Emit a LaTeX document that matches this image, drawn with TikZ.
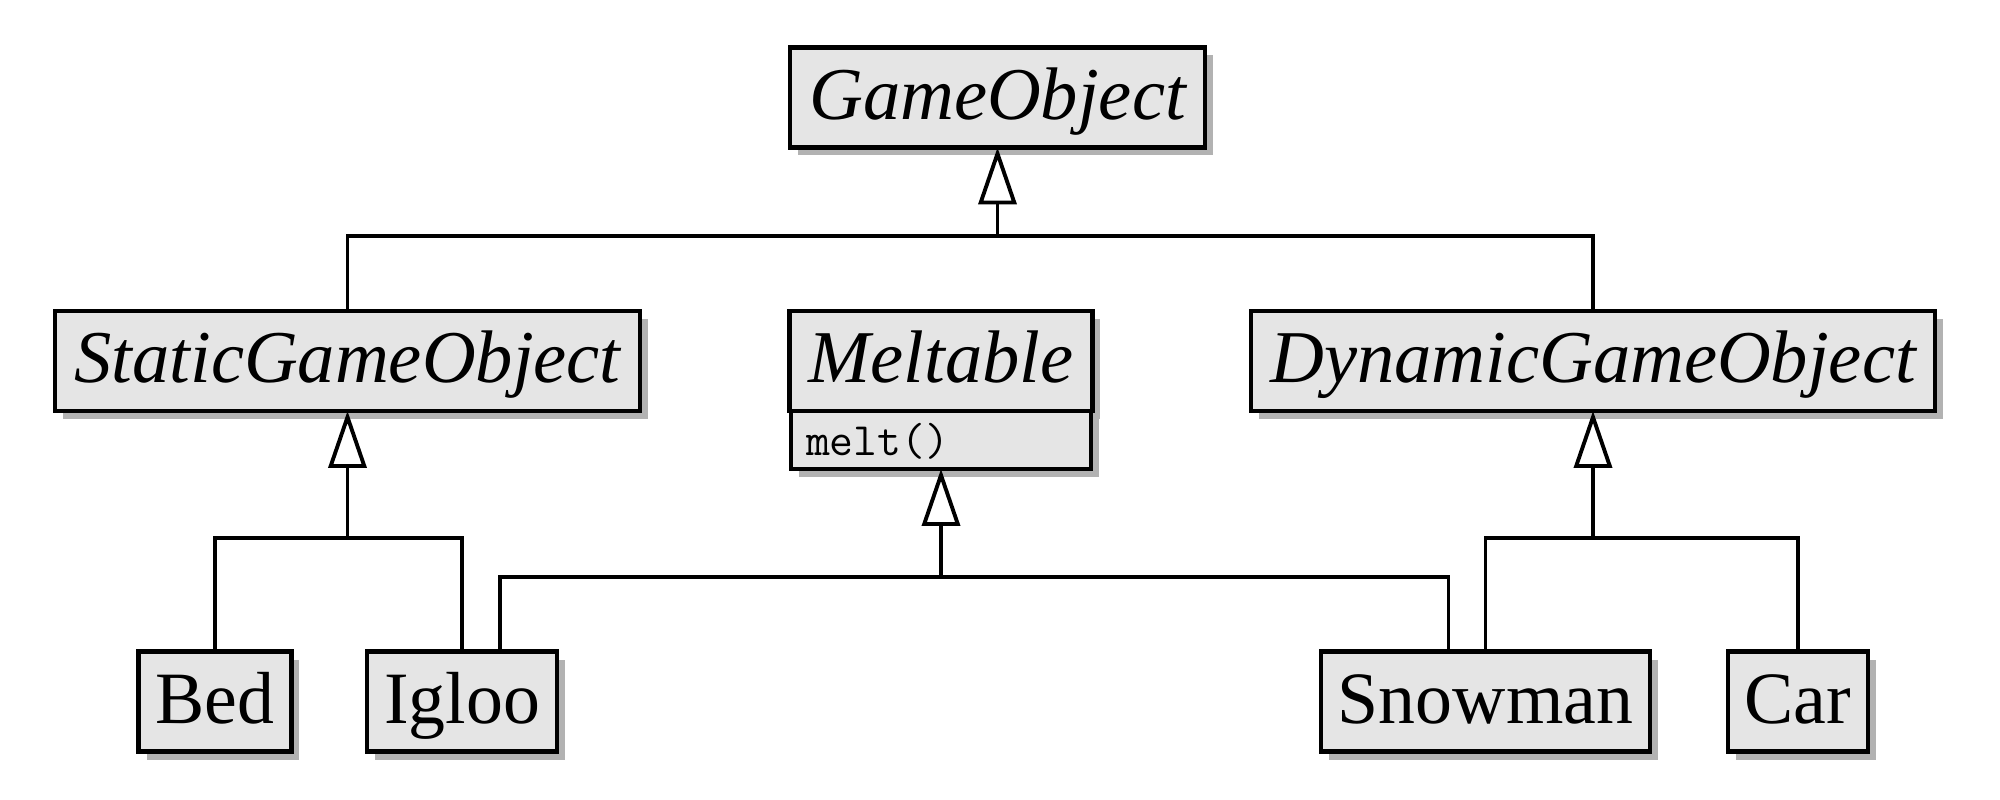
\documentclass[tikz,border=0pt]{standalone}
\usepackage{fontspec}
\setmainfont{Liberation Serif}
\usetikzlibrary{arrows.meta,shadows}

\begin{document}
\begin{tikzpicture}[
  class/.style={draw,fill=black!10,line width=1.2pt,outer sep=0pt,
    drop shadow={shadow xshift=0.08cm,shadow yshift=-0.08cm,fill=black!30,opacity=1},
    inner xsep=0.17cm,inner ysep=0.1cm,text height=0.62cm,text depth=0.18cm,
    font=\fontsize{21}{25}\selectfont},
  abstract/.style={class,inner xsep=0.19cm,font=\fontsize{21.2}{25}\selectfont\itshape},
  ops/.style={class,font=\ttfamily\fontsize{13.2}{15}\selectfont,text width=2.7cm,align=left,
    inner xsep=0.15cm,inner ysep=0.09cm,text height=0.36cm,text depth=0.04cm},
  link/.style={line width=1pt},
  inherit/.style={link,-{Triangle[open,length=0.57cm,width=0.38cm,line width=1.1pt]}}]
  \useasboundingbox (0,0) rectangle (20,-8);

  \node[abstract] (go) at (9.975,-0.975) {GameObject};
  \node[abstract] (sgo) at (3.475,-3.61) {StaticGameObject};
  \node[abstract,minimum width=3cm] (melt) at (9.41,-3.61) {Meltable};
  \node[ops,anchor=north] (meltops) at (melt.south) {melt()};
  \node[abstract] (dgo) at (15.93,-3.61) {DynamicGameObject};
  \node[class] (bed) at (2.15,-7.015) {Bed};
  \node[class] (igloo) at (4.62,-7.015) {Igloo};
  \node[class] (snowman) at (14.855,-7.015) {Snowman};
  \node[class] (car) at (17.98,-7.015) {Car};

  \coordinate (gobus) at (9.975,-2.36);
  \coordinate (sbus) at (3.475,-5.38);
  \coordinate (mbus) at (9.41,-5.77);
  \coordinate (dbus) at (15.93,-5.38);

  \draw[link] (sgo.north) |- (gobus) -| (dgo.north);
  \draw[inherit] (gobus) -- (go.south);
  \draw[link] (bed.north) |- (sbus) -| (igloo.north);
  \draw[inherit] (sbus) -- (sgo.south);
  \draw[link] ([xshift=0.38cm]igloo.north) |- (mbus) -| ([xshift=-0.37cm]snowman.north);
  \draw[inherit] (mbus) -- (meltops.south);
  \draw[link] (snowman.north) |- (dbus) -| (car.north);
  \draw[inherit] (dbus) -- (dgo.south);
\end{tikzpicture}
\end{document}
